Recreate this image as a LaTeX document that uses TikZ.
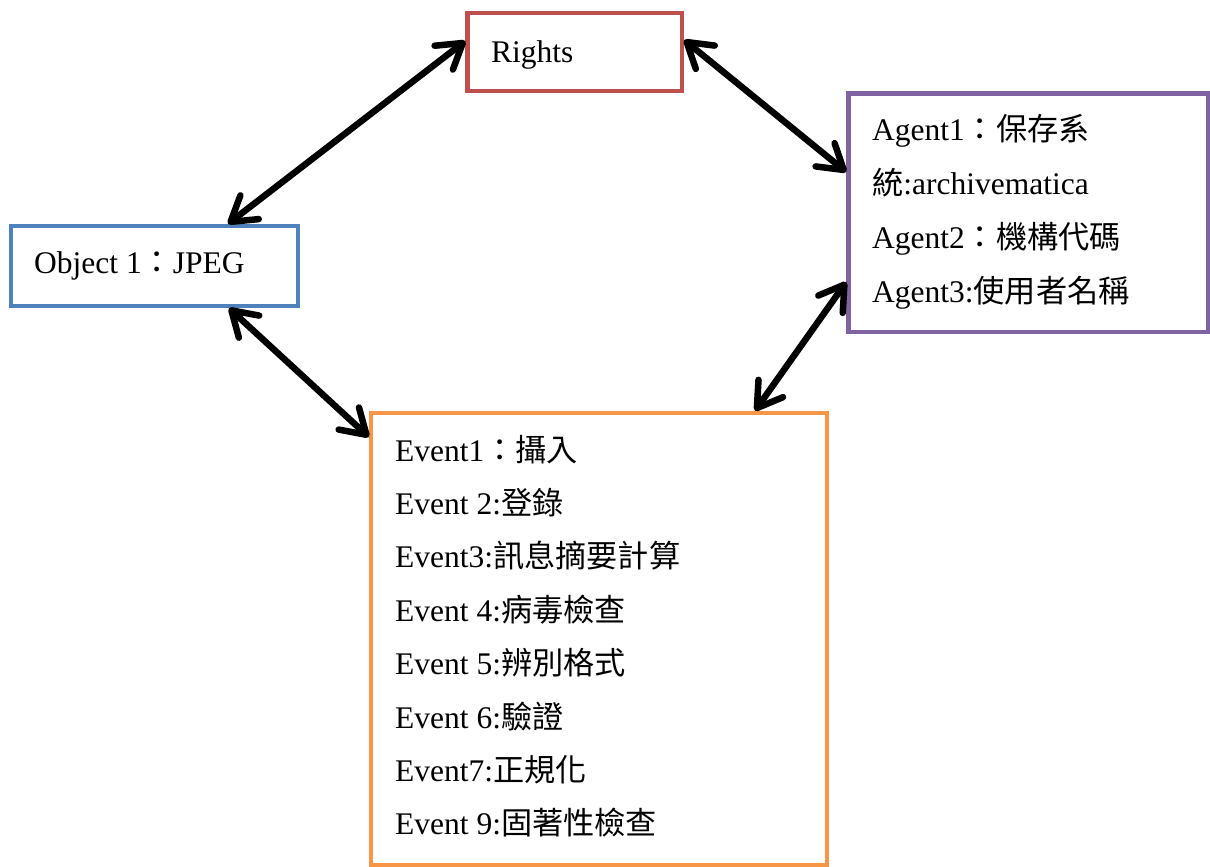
\documentclass[tikz,border=0pt]{standalone}
\usepackage{fontspec}
\setmainfont{Liberation Serif}
\newfontfamily\cjk{Noto Sans CJK TC}[Scale=0.99]
\usetikzlibrary{arrows.meta}
\definecolor{cred}{HTML}{C0504D}
\definecolor{cblue}{HTML}{4F81BD}
\definecolor{cpurple}{HTML}{8064A2}
\definecolor{corange}{HTML}{F79646}
\tikzset{
  box/.style={draw, rectangle, line width=4.3pt, inner sep=0pt, fill=white},
  txt/.style={anchor=base west, inner sep=0pt, font=\fontsize{31.5}{37}\selectfont},
  arr/.style={line width=6.5pt, draw=black,
    {Straight Barb[round,length=24pt,width=30pt]}-{Straight Barb[round,length=24pt,width=30pt]}}
}
\begin{document}
\begin{tikzpicture}[x=1pt,y=-1pt]
\useasboundingbox (0,0) rectangle (1210,867);
% boxes
\node[box, draw=cred, minimum width=214.5pt, minimum height=78pt] (rights) at (574.75,52.3) {};
\node[box, draw=cblue, minimum width=287pt, minimum height=80pt] (obj) at (154.8,266) {};
\node[box, draw=cpurple, minimum width=360pt, minimum height=238.7pt] (agent) at (1028.4,212.7) {};
\node[box, draw=corange, minimum width=456pt, minimum height=452pt] (event) at (599,638.9) {};
% texts
\node[txt] (trights) at (491,63) {Rights};
\node[txt] (tobj) at (34,273) {Object 1{\cjk ：}JPEG};
\node[txt] (ta1) at (872,140) {Agent1{\cjk ：保存系}};
\node[txt] (ta1b) at (872,194) {{\cjk 統}:archivematica};
\node[txt] (ta2) at (872,248) {Agent2{\cjk ：機構代碼}};
\node[txt] (ta3) at (872,302) {Agent3:{\cjk 使用者名稱}};
\node[txt] (te1) at (395,461) {Event1{\cjk ：攝入}};
\node[txt] (te2) at (395,514.4) {Event 2:{\cjk 登錄}};
\node[txt] (te3) at (395,567.8) {Event3:{\cjk 訊息摘要計算}};
\node[txt] (te4) at (395,621.2) {Event 4:{\cjk 病毒檢查}};
\node[txt] (te5) at (395,674.6) {Event 5:{\cjk 辨別格式}};
\node[txt] (te6) at (395,728) {Event 6:{\cjk 驗證}};
\node[txt] (te7) at (395,781.4) {Event7:{\cjk 正規化}};
\node[txt] (te9) at (395,834.8) {Event 9:{\cjk 固著性檢查}};
% connectors
\draw[arr] ([yshift=11.3pt]rights.west) -- ([xshift=73.2pt]obj.north);
\draw[arr] ([yshift=12.3pt]rights.east) -- ([yshift=40.7pt]agent.west);
\draw[arr] ([yshift=-69.3pt]agent.west) -- ([xshift=156pt]event.north);
\draw[arr] ([xshift=74.2pt]obj.south) -- ([yshift=201.9pt]event.west);
\end{tikzpicture}
\end{document}
